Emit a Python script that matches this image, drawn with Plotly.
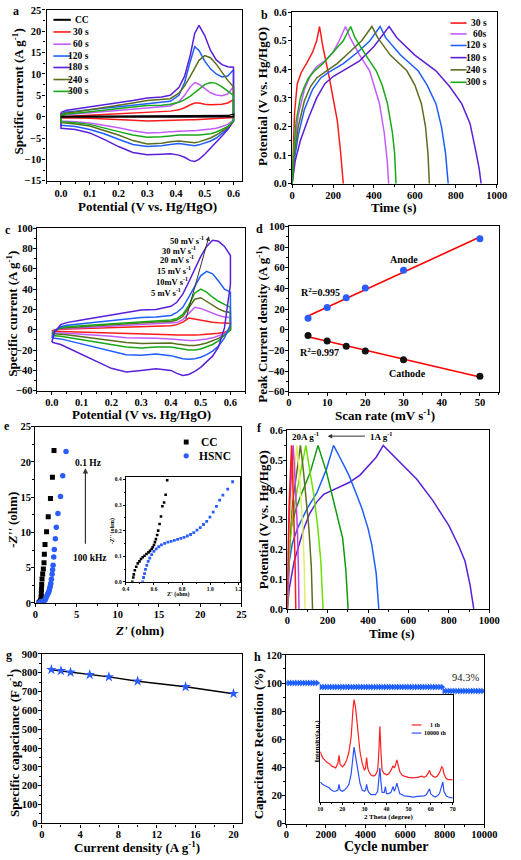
import numpy as np
import plotly.graph_objects as go

W, H = 521, 860
SERIF = "Liberation Serif"

# ---------------- DATA ----------------
# (a) CV curves, different deposition times (upper = anodic sweep, lower = cathodic sweep, same potential order)
A_E = [0.0, 0.02, 0.05, 0.1, 0.15, 0.2, 0.25, 0.3, 0.35, 0.38, 0.41, 0.43, 0.45, 0.465, 0.48, 0.5, 0.52, 0.54, 0.56, 0.58, 0.6]
A_NAMES = ["CC", "30 s", "60 s", "120 s", "180 s", "240 s", "300 s"]
A_CC_UP = [0.05, 0.08, 0.08, 0.08, 0.08, 0.08, 0.08, 0.08, 0.08, 0.08, 0.08, 0.08, 0.08, 0.08, 0.08, 0.08, 0.08, 0.1, 0.15, 0.25, 0.6]
A_CC_DN = [-0.1, -0.08, -0.06, -0.05, -0.05, -0.05, -0.05, -0.05, -0.05, -0.05, -0.05, -0.05, -0.05, -0.05, -0.05, -0.05, -0.05, -0.05, -0.05, -0.03, 0.0]
A_30_UP = [0.0, 0.1, 0.2, 0.35, 0.5, 0.65, 0.8, 0.95, 1.1, 1.3, 1.6, 2.1, 2.8, 3.2, 3.2, 2.9, 2.8, 2.8, 2.9, 3.2, 4.0]
A_30_DN = [-0.3, -0.3, -0.3, -0.35, -0.5, -0.65, -0.85, -1.0, -0.95, -0.85, -0.8, -0.75, -0.7, -0.7, -0.65, -0.6, -0.55, -0.5, -0.4, -0.3, -0.2]
A_60_UP = [0.2, 0.5, 0.6, 0.9, 1.2, 1.5, 1.8, 2.1, 2.3, 2.5, 3.5, 5.0, 7.0, 8.0, 7.6, 6.5, 5.6, 5.1, 4.9, 5.3, 7.0]
A_60_DN = [-1.0, -1.1, -1.2, -1.5, -2.0, -2.6, -3.3, -3.8, -3.7, -3.5, -3.4, -3.3, -3.3, -3.3, -3.2, -3.1, -2.9, -2.7, -2.3, -1.8, -0.8]
A_120_UP = [0.7, 1.1, 1.3, 1.6, 1.9, 2.3, 2.7, 3.0, 3.3, 3.6, 5.0, 8.0, 13.0, 16.4, 15.5, 13.0, 11.2, 10.0, 9.3, 9.5, 11.0]
A_120_DN = [-2.0, -2.1, -2.3, -3.0, -4.0, -5.3, -6.5, -7.0, -6.8, -6.5, -6.3, -6.4, -6.7, -6.8, -6.6, -6.2, -5.7, -5.0, -4.0, -2.8, -1.0]
A_180_UP = [1.0, 1.5, 1.8, 2.3, 2.7, 3.2, 3.8, 4.4, 4.6, 5.0, 6.8, 9.5, 14.5, 19.5, 21.4, 19.0, 15.5, 13.3, 12.2, 11.7, 11.6]
A_180_DN = [-2.7, -2.8, -3.0, -3.8, -5.3, -7.0, -8.4, -8.9, -8.8, -8.7, -9.0, -9.5, -10.3, -10.5, -10.0, -8.8, -7.5, -6.0, -4.5, -3.0, -1.0]
A_240_UP = [0.5, 0.9, 1.1, 1.6, 2.1, 2.6, 3.2, 3.8, 4.0, 4.2, 5.5, 7.2, 9.5, 11.5, 13.2, 14.3, 13.8, 12.3, 10.5, 8.5, 7.0]
A_240_DN = [-1.4, -1.5, -1.7, -2.2, -3.2, -4.3, -5.6, -6.4, -6.2, -5.9, -5.7, -5.8, -6.0, -6.1, -5.9, -5.5, -5.0, -4.3, -3.5, -2.5, -1.0]
A_300_UP = [0.3, 0.6, 0.8, 1.1, 1.5, 1.9, 2.3, 2.6, 2.7, 2.9, 3.4, 4.0, 4.8, 5.6, 6.6, 7.5, 8.0, 7.8, 7.0, 6.0, 5.0]
A_300_DN = [-1.2, -1.3, -1.4, -1.8, -2.6, -3.5, -4.3, -4.8, -4.7, -4.5, -4.3, -4.3, -4.3, -4.3, -4.3, -4.2, -4.0, -3.6, -3.0, -2.3, -1.0]

# (b) GCD curves, different deposition times
B_NAMES = ["30 s", "60s", "120 s", "180 s", "240 s", "300 s"]
B30_T = [0, 5, 12, 25, 45, 70, 100, 120, 134, 150, 165, 182, 200, 221, 237, 250]
B30_V = [0, 0.12, 0.25, 0.35, 0.39, 0.42, 0.46, 0.5, 0.55, 0.48, 0.43, 0.37, 0.3, 0.22, 0.11, 0]
B60_T = [0, 10, 30, 60, 90, 120, 160, 200, 230, 261, 284, 330, 379, 427, 450, 465, 472]
B60_V = [0, 0.12, 0.24, 0.33, 0.38, 0.41, 0.43, 0.46, 0.5, 0.55, 0.51, 0.45, 0.395, 0.28, 0.18, 0.08, 0]
B120_T = [0, 10, 30, 60, 100, 140, 180, 250, 320, 380, 430, 458, 530, 616, 660, 703, 730, 750, 763]
B120_V = [0, 0.08, 0.17, 0.26, 0.33, 0.37, 0.39, 0.42, 0.46, 0.5, 0.55, 0.51, 0.45, 0.395, 0.345, 0.28, 0.2, 0.107, 0]
B180_T = [0, 15, 40, 80, 120, 160, 200, 260, 330, 400, 474, 513, 600, 703, 770, 829, 870, 900, 915, 924]
B180_V = [0, 0.08, 0.15, 0.23, 0.3, 0.35, 0.375, 0.4, 0.43, 0.48, 0.55, 0.51, 0.45, 0.395, 0.34, 0.28, 0.21, 0.107, 0.05, 0]
B240_T = [0, 10, 30, 60, 90, 120, 160, 220, 280, 340, 390, 419, 480, 561, 600, 632, 652, 664, 671]
B240_V = [0, 0.1, 0.2, 0.29, 0.34, 0.37, 0.39, 0.42, 0.46, 0.5, 0.55, 0.51, 0.45, 0.395, 0.345, 0.28, 0.2, 0.107, 0]
B300_T = [0, 8, 20, 40, 60, 80, 110, 150, 200, 250, 286, 308, 360, 411, 440, 466, 490, 501, 508]
B300_V = [0, 0.12, 0.22, 0.3, 0.34, 0.37, 0.395, 0.42, 0.46, 0.5, 0.55, 0.51, 0.45, 0.395, 0.345, 0.28, 0.18, 0.107, 0]

# (c) CV curves at scan rates
C_E = [0.0, 0.01, 0.03, 0.05, 0.1, 0.15, 0.2, 0.25, 0.3, 0.35, 0.4, 0.42, 0.44, 0.46, 0.48, 0.5, 0.52, 0.54, 0.56, 0.58, 0.6]
C_LABELS = ["50 mV s<sup>-1</sup>", "30 mV s<sup>-1</sup>", "20 mV s<sup>-1</sup>", "15 mV s<sup>-1</sup>", "10mV s<sup>-1</sup>", "5 mV s<sup>-1</sup>"]
C5_UP = [-1.5, 0.0, 0.5, 0.7, 1.0, 1.5, 2.0, 2.5, 3.0, 3.3, 4.0, 5.0, 7.5, 11.5, 10.5, 9.0, 8.0, 7.3, 6.8, 6.5, 6.5]
C5_DN = [-1.5, -1.5, -1.6, -1.7, -2.1, -2.6, -3.2, -3.7, -4.2, -4.5, -5.0, -5.3, -5.5, -5.5, -5.3, -5.0, -4.7, -4.2, -3.5, -2.5, 0.0]
C10_UP = [-3.0, -0.5, 1.0, 1.5, 2.0, 2.7, 3.5, 4.2, 5.0, 5.5, 6.0, 7.0, 10.0, 16.0, 22.0, 21.0, 18.5, 16.0, 14.0, 12.5, 12.0]
C10_DN = [-3.0, -3.0, -3.2, -3.4, -4.2, -5.3, -6.5, -7.8, -8.5, -8.5, -9.0, -9.5, -10.0, -10.5, -10.5, -10.0, -9.2, -8.0, -6.0, -3.5, 0.0]
C15_UP = [-4.0, -0.5, 1.5, 2.0, 3.0, 4.0, 5.0, 6.0, 7.0, 7.5, 8.0, 9.5, 13.0, 21.0, 30.0, 31.5, 28.0, 24.0, 20.5, 18.0, 17.0]
C15_DN = [-4.0, -4.0, -4.5, -5.0, -6.5, -8.5, -10.5, -12.5, -13.5, -13.0, -13.0, -14.0, -15.0, -15.5, -15.5, -14.5, -13.0, -11.0, -8.5, -5.0, 0.0]
C20_UP = [-6.0, -1.0, 2.0, 3.0, 4.0, 5.0, 6.0, 7.0, 8.0, 8.5, 9.5, 11.0, 15.0, 24.0, 36.0, 40.0, 37.0, 32.0, 28.0, 25.0, 22.0]
C20_DN = [-6.0, -6.0, -6.5, -7.5, -9.5, -12.0, -14.5, -17.0, -18.0, -17.0, -17.0, -18.0, -19.0, -20.0, -20.0, -19.0, -17.0, -14.5, -11.0, -6.0, 0.0]
C30_UP = [-8.0, -1.0, 3.0, 4.5, 6.0, 7.5, 9.0, 10.5, 12.0, 12.5, 14.0, 17.0, 22.0, 32.0, 43.0, 53.0, 57.5, 55.0, 48.0, 40.0, 37.0]
C30_DN = [-8.0, -8.5, -9.0, -10.0, -13.5, -17.0, -21.0, -24.5, -25.0, -24.0, -25.5, -27.0, -28.5, -29.0, -28.5, -27.0, -24.5, -21.0, -16.0, -8.0, 5.0]
C50_UP = [-12.0, -2.0, 5.0, 7.0, 9.5, 12.0, 14.5, 17.5, 19.5, 20.0, 23.0, 27.0, 35.0, 47.0, 60.0, 72.0, 82.0, 88.0, 87.0, 82.0, 73.0]
C50_DN = [-12.5, -13.0, -14.5, -17.0, -24.0, -31.0, -38.0, -41.5, -40.0, -38.5, -40.0, -43.0, -45.0, -44.0, -41.0, -37.0, -32.0, -26.0, -17.0, 2.0, 45.0]

# (d) peak current vs scan rate
D_RATE = [5, 10, 15, 20, 30, 50]
D_ANODE = [11, 21.5, 31, 40.5, 57.5, 88]
D_CATHODE = [-5.5, -11, -16, -20.5, -29, -45]

# (e) Nyquist plots
E_CC_X = [0.45, 0.48, 0.52, 0.57, 0.61, 0.64, 0.67, 0.69, 0.71, 0.73, 0.75, 0.78, 0.82, 0.9, 0.98, 1.06, 1.1, 1.18, 1.37, 1.57, 1.84, 2.08, 2.27]
E_CC_Y = [0.0, 0.07, 0.1, 0.12, 0.16, 0.23, 0.32, 0.45, 0.8, 1.3, 1.9, 2.6, 3.4, 4.1, 4.8, 5.7, 6.9, 8.3, 10.1, 12.2, 14.8, 17.8, 21.6]
E_HS_X = [0.52, 0.56, 0.62, 0.7, 0.8, 0.9, 1.0, 1.1, 1.2, 1.3, 1.41, 1.52, 1.61, 1.7, 1.76, 1.82, 1.88, 1.96, 2.04, 2.1, 2.16, 2.24, 2.31, 2.43, 2.55, 2.75, 3.06, 3.33, 3.73]
E_HS_Y = [0.0, 0.09, 0.13, 0.16, 0.17, 0.2, 0.25, 0.33, 0.45, 0.7, 1.03, 1.3, 1.5, 1.8, 2.11, 2.4, 2.76, 3.37, 4.07, 4.7, 5.34, 6.51, 7.59, 9.09, 10.73, 12.69, 15.08, 18.03, 21.45]
# (e) inset (high-frequency region)
EI_CC_X = [0.446, 0.453, 0.457, 0.464, 0.474, 0.485, 0.497, 0.508, 0.52, 0.533, 0.547, 0.561, 0.572, 0.584, 0.591, 0.6, 0.607, 0.614, 0.623, 0.63, 0.64, 0.65, 0.66, 0.672, 0.683, 0.694]
EI_CC_Y = [0.0, 0.017, 0.029, 0.045, 0.059, 0.072, 0.08, 0.089, 0.096, 0.102, 0.109, 0.115, 0.121, 0.128, 0.135, 0.144, 0.155, 0.167, 0.183, 0.2, 0.226, 0.255, 0.295, 0.31, 0.34, 0.397]
EI_HS_X = [0.52, 0.526, 0.533, 0.54, 0.549, 0.559, 0.57, 0.584, 0.6, 0.616, 0.634, 0.653, 0.676, 0.699, 0.722, 0.745, 0.768, 0.791, 0.814, 0.837, 0.86, 0.883, 0.906, 0.929, 0.952, 0.975, 0.998, 1.021, 1.044, 1.067, 1.09, 1.124, 1.159]
EI_HS_Y = [0.0, 0.017, 0.032, 0.049, 0.064, 0.08, 0.093, 0.106, 0.119, 0.129, 0.137, 0.144, 0.15, 0.155, 0.158, 0.162, 0.166, 0.17, 0.174, 0.179, 0.185, 0.192, 0.202, 0.212, 0.224, 0.236, 0.253, 0.272, 0.295, 0.319, 0.339, 0.362, 0.391]

# (f) GCD at different current densities
F1_T = [0, 10, 34, 60, 82, 110, 146, 180, 226, 306, 360, 402, 440, 475, 560, 640, 720, 800, 850, 880, 905, 923]
F1_V = [0, 0.07, 0.16, 0.22, 0.27, 0.32, 0.36, 0.385, 0.4, 0.425, 0.45, 0.48, 0.51, 0.55, 0.49, 0.437, 0.365, 0.28, 0.21, 0.16, 0.08, 0]
F2_T = [0, 4, 10, 25, 50, 98, 146, 194, 229, 260, 306, 340, 370, 400, 418, 440, 453]
F2_V = [0, 0.08, 0.16, 0.22, 0.27, 0.337, 0.39, 0.47, 0.55, 0.51, 0.448, 0.39, 0.337, 0.27, 0.216, 0.12, 0]
F3_T = [0, 5, 18, 40, 66, 90, 114, 152, 194, 242, 274, 290, 301]
F3_V = [0, 0.12, 0.27, 0.33, 0.38, 0.42, 0.46, 0.55, 0.46, 0.327, 0.238, 0.13, 0]
F5_T = [0, 5, 15, 35, 60, 92, 110, 130, 150, 166, 177]
F5_V = [0, 0.12, 0.24, 0.35, 0.44, 0.55, 0.47, 0.39, 0.28, 0.16, 0]
F7_T = [0, 4, 12, 25, 45, 65, 79, 93, 107, 119, 125]
F10_T = [0, 3, 9, 18, 33, 48, 58, 68, 77, 84, 88]
F15_T = [0, 2, 6, 12, 21, 29, 36, 43, 50, 55, 58]
F20_T = [0, 2, 5, 9, 15, 21, 26, 30, 35, 39, 42]
F_SHORT_V = [0, 0.12, 0.25, 0.35, 0.45, 0.55, 0.47, 0.38, 0.27, 0.14, 0]

# (g) rate capability
G_CD = [1, 2, 3, 5, 7, 10, 15, 20]
G_CAP = [816, 810, 802, 790, 778, 755, 725, 689]

# (h) cycling stability: plateau segments (start cycle, end cycle, retention %)
H_SEG_START = [0, 1760, 7960]
H_SEG_END = [1680, 7880, 10000]
H_SEG_VAL = [100.0, 97.2, 94.3]
# (h) inset XRD
H_2T = [10, 11, 12, 13, 14, 15, 16, 17, 18, 18.5, 19, 20, 21, 22, 23, 24, 24.8, 25.3, 26, 26.5, 27, 28, 29, 30,
        30.5, 31, 31.5, 32, 33, 34, 35, 36, 36.5, 37, 37.5, 38, 39, 39.5, 40, 41, 42, 43, 43.5, 44, 44.7, 45.5, 46, 47,
        48, 50, 52, 54, 56, 57, 58, 59, 59.5, 60, 61, 62, 63, 64, 65, 65.5, 66, 67, 68, 70]
H_XRD_1 = [52, 47, 45, 43, 42, 40, 39, 38, 42, 49, 41, 39, 41, 45, 52, 65, 88, 97, 90, 80, 67, 52, 42, 36,
           38, 47, 38, 35, 32, 31, 32, 36, 50, 74, 52, 36, 33, 33, 32, 33, 36, 40, 38, 40, 45, 40, 35, 32,
           31, 30, 29.5, 30, 31, 30, 31, 34, 36, 33, 31, 30, 31, 34, 39, 38, 33, 29, 28, 28]
H_XRD_10000 = [26, 24, 23, 22, 21, 19, 18, 18, 19, 24, 19, 18, 19, 21, 24, 33, 48, 56, 48, 42, 33, 25, 19, 18,
               19, 24, 19, 17, 15, 15, 15, 18, 28, 38, 26, 17, 17, 22, 16, 16, 17, 22, 18, 20, 25, 20, 16, 15,
               14, 13.5, 13, 13.5, 14, 14, 15, 18, 20, 16, 14, 13, 14, 16, 23, 26, 18, 14, 13, 12]

# ---------------- STYLE ----------------
BLACK = "#000000"; RED = "#FF1A1A"; VIOLET = "#C25CFF"; BLUE = "#1E5EFF"
PURPLE = "#5A1FD8"; OLIVE = "#5A6E1E"; GREEN = "#18A818"
LGREEN = "#6BE000"; YELLOW = "#E2EC6A"; MAG = "#C040E0"


def fx(p):
    return p / W


def fy(p):
    return 1 - p / H


# plot boxes in pixels: left, right, top, bottom
BOX = {
    1: (45, 246.7, 5, 178),
    2: (298.3, 509.3, 7.3, 181),
    3: (35, 250, 226, 390.7),
    4: (295, 511.7, 224.3, 391.7),
    5: (33.3, 246, 427, 605.7),
    6: (293.3, 501.7, 431, 611.7),
    7: (40, 246.7, 657.3, 829),
    8: (292.3, 496.7, 658.3, 829.3),
    9: (126.7, 245, 478, 584.3),
    10: (327.3, 464, 699.3, 807),
}

fig = go.Figure()
layout = dict(width=W, height=H, margin=dict(l=0, r=0, t=0, b=0),
              paper_bgcolor="white", plot_bgcolor="white", showlegend=False)


def ax_names(i):
    return ("xaxis" if i == 1 else f"xaxis{i}", "yaxis" if i == 1 else f"yaxis{i}",
            "x" if i == 1 else f"x{i}", "y" if i == 1 else f"y{i}")


def set_axes(i, xr, xd, xm, yr, yd, ym, xfmt=None, yfmt=None, fs=10.5, tl=3, mtl=2, lw=1.4,
             yticks=True, so=-1):
    xk, yk, xa, ya = ax_names(i)
    l, r, t, b = BOX[i]
    base = dict(showline=True, linecolor="black", linewidth=lw, mirror=True, showgrid=False,
                zeroline=False, ticks="outside", ticklen=tl, tickwidth=1.1, tickcolor="black",
                ticklabelstandoff=so,
                tickfont=dict(family=SERIF, size=fs, color="black", weight="bold"))
    layout[xk] = dict(base, domain=[fx(l), fx(r)], anchor=ya, range=xr, dtick=xd, tick0=0,
                      minor=dict(ticks="outside", ticklen=mtl, dtick=xm, tickwidth=1, tickcolor="black", tick0=0),
                      tickformat=xfmt)
    yax = dict(base, domain=[fy(b), fy(t)], anchor=xa, range=yr, dtick=yd, tick0=0,
               minor=dict(ticks="outside", ticklen=mtl, dtick=ym, tickwidth=1, tickcolor="black", tick0=0),
               tickformat=yfmt)
    if not yticks:
        yax.update(ticks="", showticklabels=False, minor=dict(ticks=""))
    layout[yk] = yax
    return xa, ya


ann = []
shapes = []


def txt(x, y, text, size=11, xanchor="center", yanchor="middle", weight="bold", angle=0, color="black"):
    ann.append(dict(x=fx(x), y=fy(y), xref="paper", yref="paper", text=text, showarrow=False,
                    xanchor=xanchor, yanchor=yanchor, textangle=angle,
                    font=dict(family=SERIF, size=size, color=color, weight=weight)))


def line_sample(x0, x1, y, color, width=1.6):
    shapes.append(dict(type="line", xref="paper", yref="paper", x0=fx(x0), x1=fx(x1), y0=fy(y), y1=fy(y),
                       line=dict(color=color, width=width)))


def loop(E, up, dn):
    xs = list(E) + list(E[::-1]) + [E[0]]
    ys = list(up) + list(dn[::-1]) + [up[0]]
    return xs, ys


def arrow(xa, ya, x, y, ax, ay, w=1.0):
    ann.append(dict(x=x, y=y, ax=ax, ay=ay, xref=xa, yref=ya, axref=xa, ayref=ya, text=" ",
                    showarrow=True, arrowhead=2, arrowsize=0.9, arrowwidth=w, arrowcolor="#333",
                    font=dict(size=6)))


# ---- panel a
xa, ya = set_axes(1, [-0.05, 0.63], 0.1, 0.05, [-15, 25], 5, 2.5, xfmt=".1f")
a_series = [(A_30_UP, A_30_DN, RED), (A_60_UP, A_60_DN, VIOLET), (A_120_UP, A_120_DN, BLUE),
            (A_180_UP, A_180_DN, PURPLE), (A_240_UP, A_240_DN, OLIVE), (A_300_UP, A_300_DN, GREEN),
            (A_CC_UP, A_CC_DN, BLACK)]
for up, dn, col in a_series:
    xs, ys = loop(A_E, up, dn)
    fig.add_trace(go.Scatter(x=xs, y=ys, mode="lines", line=dict(color=col, width=1.5), xaxis=xa, yaxis=ya))
a_cols = [BLACK, RED, VIOLET, BLUE, PURPLE, OLIVE, GREEN]
a_ys = [15, 27.3, 39.7, 51.7, 63.3, 75.5, 87.5]
for name, col, yy in zip(A_NAMES, a_cols, a_ys):
    line_sample(52, 70, yy, col, 2 if col == BLACK else 1.6)
    txt(90.5, yy, name, size=9.5, xanchor="right")

# ---- panel b
xa, ya = set_axes(2, [0, 1000], 200, 100, [0, 0.6], 0.1, 0.05, xfmt="d", yfmt=".1f")
b_series = [(B30_T, B30_V, RED), (B60_T, B60_V, VIOLET), (B120_T, B120_V, BLUE),
            (B180_T, B180_V, PURPLE), (B240_T, B240_V, OLIVE), (B300_T, B300_V, GREEN)]
for t, v, col in b_series:
    fig.add_trace(go.Scatter(x=t, y=v, mode="lines", line=dict(color=col, width=1.5), xaxis=xa, yaxis=ya))
b_ys = [18.3, 29.3, 41, 53.3, 65.7, 78.3]
for name, (_, _, col), yy in zip(B_NAMES, b_series, b_ys):
    line_sample(461.7, 478.3, yy, col)
    txt(501.7, yy, name, size=9.5, xanchor="right")

# ---- panel c
xa, ya = set_axes(3, [-0.05, 0.65], 0.1, 0.05, [-60, 100], 20, 10, xfmt=".1f", so=-2)
c_series = [(C5_UP, C5_DN, RED), (C10_UP, C10_DN, VIOLET), (C15_UP, C15_DN, OLIVE),
            (C20_UP, C20_DN, GREEN), (C30_UP, C30_DN, BLUE), (C50_UP, C50_DN, PURPLE)]
for up, dn, col in c_series:
    xs, ys = loop(C_E, up, dn)
    fig.add_trace(go.Scatter(x=xs, y=ys, mode="lines", line=dict(color=col, width=1.5), xaxis=xa, yaxis=ya))
c_pos = [(0.519, 87.5), (0.49, 78.4), (0.484, 68.7), (0.473, 58), (0.463, 47), (0.441, 36.3)]
for lab, (px_, py_) in zip(C_LABELS, c_pos):
    ann.append(dict(x=px_, y=py_, xref=xa, yref=ya, text=lab, showarrow=False, xanchor="right",
                    yanchor="middle", font=dict(family=SERIF, size=8.5, color="black", weight="bold")))
arrow(xa, ya, 0.528, 92, 0.445, 5)

# ---- panel d
xa, ya = set_axes(4, [0, 55], 10, 5, [-60, 100], 20, 10, xfmt="d", so=-2)
fa = np.polyfit(D_RATE, D_ANODE, 1)
fc = np.polyfit(D_RATE, D_CATHODE, 1)
xr = np.array([min(D_RATE), max(D_RATE)])
fig.add_trace(go.Scatter(x=xr, y=np.polyval(fa, xr), mode="lines", line=dict(color="#FF0000", width=1.6), xaxis=xa, yaxis=ya))
fig.add_trace(go.Scatter(x=xr, y=np.polyval(fc, xr), mode="lines", line=dict(color="#FF0000", width=1.6), xaxis=xa, yaxis=ya))
fig.add_trace(go.Scatter(x=D_RATE, y=D_ANODE, mode="markers", marker=dict(color="#2A5CFF", size=7), xaxis=xa, yaxis=ya))
fig.add_trace(go.Scatter(x=D_RATE, y=D_CATHODE, mode="markers", marker=dict(color="#111", size=7), xaxis=xa, yaxis=ya))
for lab, xx, yy in [("Anode", 30, 68), ("Cathode", 31, -42), ("R<sup>2</sup>=0.995", 8.3, 36.3),
                    ("R<sup>2</sup>=0.997", 8.1, -21.7)]:
    ann.append(dict(x=xx, y=yy, xref=xa, yref=ya, text=lab, showarrow=False,
                    font=dict(family=SERIF, size=10, color="black", weight="bold")))

# ---- panel e
xa, ya = set_axes(5, [0, 25], 5, 2.5, [0, 25], 5, 2.5, xfmt="d", yfmt="d", so=-2)
fig.add_trace(go.Scatter(x=E_CC_X, y=E_CC_Y, mode="markers", marker=dict(color="black", size=5, symbol="square"), xaxis=xa, yaxis=ya))
fig.add_trace(go.Scatter(x=E_HS_X, y=E_HS_Y, mode="markers", marker=dict(color="#2A5CFF", size=5.5, symbol="circle"), xaxis=xa, yaxis=ya))
arrow(xa, ya, 6.08, 19.1, 6.08, 7.6, 1.2)
for lab, xx, yy in [("0.1 Hz", 6.47, 19.9), ("100 kHz", 6.67, 6.3)]:
    ann.append(dict(x=xx, y=yy, xref=xa, yref=ya, text=lab, showarrow=False,
                    font=dict(family=SERIF, size=9.5, color="black", weight="bold")))
shapes.append(dict(type="rect", xref="paper", yref="paper", x0=fx(186.5), x1=fx(191.5), y0=fy(445.2), y1=fy(440.2),
                   fillcolor="black", line=dict(width=0)))
shapes.append(dict(type="circle", xref="paper", yref="paper", x0=fx(186.3), x1=fx(191.7), y0=fy(459.4), y1=fy(454),
                   fillcolor="#2A5CFF", line=dict(width=0)))
txt(201.7, 442.7, "CC", size=11.5, xanchor="left")
txt(200, 456.7, "HSNC", size=11.5, xanchor="left")

# ---- panel e inset
xa, ya = set_axes(9, [0.4, 1.215], 0.2, 0.1, [0, 0.41], 0.1, 0.05, xfmt=".1f", yfmt=".1f", fs=5.5, tl=2, mtl=1, lw=1, so=0)
fig.add_trace(go.Scatter(x=EI_CC_X, y=EI_CC_Y, mode="markers", marker=dict(color="black", size=2.6, symbol="square"), xaxis=xa, yaxis=ya))
fig.add_trace(go.Scatter(x=EI_HS_X, y=EI_HS_Y, mode="markers", marker=dict(color="#2A5CFF", size=2.8, symbol="square"), xaxis=xa, yaxis=ya))
txt(181, 597.5, "Z' (ohm)", size=6, weight="bold")
txt(112.5, 533, "-Z'' (ohm)", size=6, angle=-90)

# ---- panel f
xa, ya = set_axes(6, [0, 1000], 200, 100, [0, 0.6], 0.1, 0.05, xfmt="d", yfmt=".1f", so=-2)
f_series = [(F1_T, F1_V, PURPLE), (F2_T, F2_V, BLUE), (F3_T, F3_V, "#0E9A0E"), (F5_T, F5_V, LGREEN),
            (F7_T, F_SHORT_V, OLIVE), (F10_T, F_SHORT_V, YELLOW), (F15_T, F_SHORT_V, MAG), (F20_T, F_SHORT_V, RED)]
for t, v, col in f_series:
    fig.add_trace(go.Scatter(x=t, y=v, mode="lines", line=dict(color=col, width=1.5), xaxis=xa, yaxis=ya))
arrow(xa, ya, 200, 0.581, 397, 0.581)
for lab, xx in [("20A g<sup>-1</sup>", 92), ("1A g<sup>-1</sup>", 466)]:
    ann.append(dict(x=xx, y=0.581, xref=xa, yref=ya, text=lab, showarrow=False,
                    font=dict(family=SERIF, size=9, color="black", weight="bold")))

# ---- panel g
xa, ya = set_axes(7, [0, 20.9], 4, 2, [0, 900], 100, 50, xfmt="d", yfmt="d", so=-2)
fig.add_trace(go.Scatter(x=G_CD, y=G_CAP, mode="lines", line=dict(color="black", width=1.5), xaxis=xa, yaxis=ya))
fig.add_trace(go.Scatter(x=G_CD, y=G_CAP, mode="markers", marker=dict(color="#2A5CFF", size=8, symbol="star"), xaxis=xa, yaxis=ya))

# ---- panel h
xa, ya = set_axes(8, [0, 10000], 2000, 1000, [0, 120], 20, 10, xfmt="d", yfmt="d", so=-2)
hx, hy = [], []
for s, e, v in zip(H_SEG_START, H_SEG_END, H_SEG_VAL):
    cyc = np.arange(s, e + 1, 130)
    hx += list(cyc)
    hy += [v] * len(cyc)
fig.add_trace(go.Scatter(x=hx, y=hy, mode="markers", marker=dict(color="#1E5EFF", size=6, symbol="triangle-right"), xaxis=xa, yaxis=ya))
ann.append(dict(x=9020, y=104, xref=xa, yref=ya, text="94.3%", showarrow=False,
                font=dict(family=SERIF, size=10.5, color="#222", weight="normal")))

# ---- panel h inset
xa, ya = set_axes(10, [10, 70], 10, 5, [9, 100.6], 10, 5, xfmt="d", fs=6, tl=2, mtl=1, lw=1, yticks=False, so=-1)
fig.add_trace(go.Scatter(x=H_2T, y=H_XRD_1, mode="lines", line=dict(color="#FF2020", width=1.2), xaxis=xa, yaxis=ya))
fig.add_trace(go.Scatter(x=H_2T, y=H_XRD_10000, mode="lines", line=dict(color="#2A50FF", width=1.2), xaxis=xa, yaxis=ya))
line_sample(421.7, 431.7, 729.3, "#FF2020", 1.2)
line_sample(421.7, 431.7, 737.5, "#2A50FF", 1.2)
txt(438.3, 729.3, "1 th", size=6, xanchor="left")
txt(432.7, 737.5, "10000 th", size=6, xanchor="left")
txt(398, 822.5, "2 Theta (degree)", size=7)
txt(324, 746, "Intensity(a.u.)", size=7, angle=-90)

# ---- axis titles
TS = 13
txt(148.8, 204, "Potential (V vs. Hg/HgO)", size=TS)
txt(15, 88, "Specific current (A g<sup>-1</sup>)", size=TS, angle=-90)
txt(403, 205, "Time (s)", size=TS)
txt(268.5, 93, "Potential (V vs. Hg/HgO)", size=TS, angle=-90)
txt(143, 415, "Potential (V vs. Hg/HgO)", size=TS)
txt(9, 313, "Specific current (A g<sup>-1</sup>)", size=TS, angle=-90)
txt(394, 415, "Scan rate (mV s<sup>-1</sup>)", size=TS)
txt(267, 323, "Peak Current density (A g<sup>-1</sup>)", size=TS, angle=-90)
txt(141, 634, "<i>Z'</i> (ohm)", size=TS)
txt(9, 521.7, "-<i>Z''</i> (ohm)", size=TS, angle=-90)
txt(401.7, 636.5, "Time (s)", size=TS)
txt(268.5, 521.7, "Potential (V vs. Hg/HgO)", size=TS, angle=-90)
txt(138, 852.5, "Current density (A g<sup>-1</sup>)", size=TS)
txt(11, 748, "Specific capacitance (F g<sup>-1</sup>)", size=TS, angle=-90)
txt(395, 852, "Cycle number", size=14)
txt(264, 748, "Capacitance Retention (%)", size=TS, angle=-90)

# ---- panel letters
for lab, x, y in [("a", 13.3, 6), ("b", 270, 10), ("c", 5, 227.7), ("d", 265, 226.7),
                  ("e", 4, 426.7), ("f", 265, 428), ("g", 6, 658.3), ("h", 262.7, 660)]:
    txt(x, y, lab, size=12)

layout["annotations"] = ann
layout["shapes"] = shapes
fig.update_layout(**layout)
fig.write_html("out.html", config={"displayModeBar": False},
               post_script="document.body.style.margin='0';document.body.style.padding='0';"
                           "document.body.style.overflow='hidden';")
